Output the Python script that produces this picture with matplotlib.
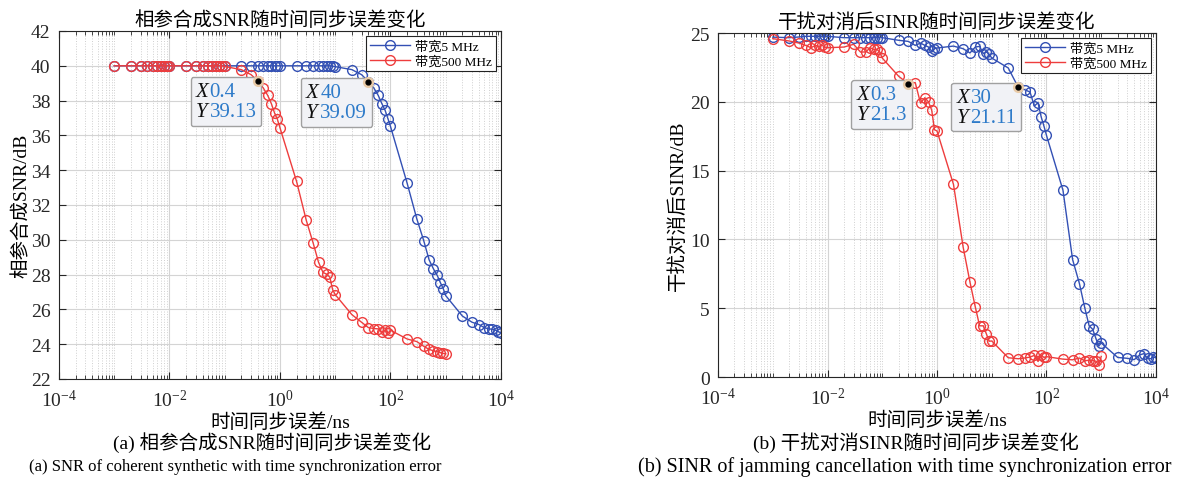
import numpy as np
import matplotlib
matplotlib.use('Agg')
import matplotlib.pyplot as plt
from matplotlib.ticker import LogLocator, NullFormatter
from matplotlib.offsetbox import TextArea, HPacker, AnnotationBbox

plt.rcParams['font.family'] = ['Liberation Serif', 'Noto Sans CJK SC']
plt.rcParams['mathtext.fontset'] = 'stix'
plt.rcParams['axes.unicode_minus'] = True

# 时间同步误差 (ns)
t_500 = [0.001, 0.002, 0.003, 0.004, 0.005, 0.006, 0.007, 0.008, 0.009,
         0.01, 0.02, 0.03, 0.04, 0.05, 0.06, 0.07, 0.08, 0.09,
         0.1, 0.2, 0.3, 0.4, 0.5, 0.6, 0.7, 0.8, 0.9,
         1, 2, 3, 4, 5, 6, 7, 8, 9,
         10, 20, 30, 40, 50, 60, 70, 80, 90,
         100, 200, 300, 400, 500, 600, 700, 800, 900, 1000]
t_5 = t_500 + [2000, 3000, 4000, 5000, 6000, 7000, 8000, 9000, 10000]

# (a) 相参合成SNR
snr_5 = [40, 40, 40, 40, 40, 40, 40, 40, 40,
         40, 40, 40, 40, 40, 40, 40, 40, 40,
         40, 40, 40, 40, 40, 40, 40, 40, 40,
         40, 40, 40, 40, 40, 40, 40, 40, 39.98,
         39.95, 39.78, 39.49, 39.09, 38.72, 38.3, 37.82, 37.44, 36.96,
         36.52, 33.26, 31.2, 29.95, 28.85, 28.33, 27.96, 27.54, 27.2,
         26.79, 25.62, 25.26, 25.13, 24.95, 24.88, 24.86, 24.8, 24.72, 24.65]
snr_500 = [40, 40, 40, 40, 40, 40, 40, 40, 40,
           40, 40, 40, 40, 40, 40, 40, 40, 40,
           39.96, 39.78, 39.49, 39.13, 38.72, 38.3, 37.82, 37.28, 36.92,
           36.44, 33.35, 31.11, 29.8, 28.7, 28.13, 28.02, 27.85, 27.12,
           26.85, 25.7, 25.26, 24.95, 24.9, 24.88, 24.69, 24.82, 24.64,
           24.8, 24.3, 24.15, 23.88, 23.7, 23.62, 23.57, 23.52, 23.47, 23.44]

# (b) 干扰对消后SINR
sinr_5 = [24.7, 24.66, 24.71, 24.76, 24.76, 24.76, 24.76, 24.76, 24.76,
          24.76, 24.66, 24.66, 24.66, 24.66, 24.66, 24.66, 24.66, 24.66,
          24.66, 24.47, 24.39, 24.1, 24.27, 24.1, 23.98, 23.69, 23.86,
          23.91, 24.05, 23.86, 23.55, 23.98, 24.03, 23.5, 23.62, 23.45,
          23.18, 22.46, 21.11, 20.88, 20.71, 19.69, 19.94, 18.9, 18.22,
          17.56, 13.57, 8.53, 6.78, 5.03, 3.73, 3.46, 2.79, 2.25,
          2.47, 1.42, 1.36, 1.26, 1.6, 1.7, 1.36, 1.33, 1.45, 1.4]
sinr_500 = [24.59, 24.42, 24.27, 24.1, 23.93, 24.1, 24.03, 24.1, 23.98,
            23.93, 23.98, 24.18, 23.62, 23.62, 23.93, 23.81, 23.81, 23.62,
            23.18, 21.85, 21.3, 21.4, 19.9, 20.3, 19.99, 19.4, 17.97,
            17.88, 14.0, 9.45, 6.9, 5.1, 3.72, 3.72, 3.12, 2.6,
            2.62, 1.4, 1.33, 1.38, 1.45, 1.57, 1.13, 1.6, 1.42,
            1.48, 1.3, 1.25, 1.38, 1.18, 1.22, 1.2, 1.15, 0.86, 1.5]

blue = '#3350B4'
red = '#EE3D3D'


def style_axes(ax, ylim, yticks):
    ax.set_xscale('log')
    ax.set_xlim(1e-4, 1e4)
    ax.set_ylim(*ylim)
    ax.set_yticks(yticks)
    ax.set_xticks([1e-4, 1e-2, 1e0, 1e2, 1e4])
    ax.xaxis.set_minor_locator(LogLocator(base=10, subs=np.arange(1, 10), numticks=50))
    ax.xaxis.set_minor_formatter(NullFormatter())
    ax.grid(True, which='major', color='#D4D4D4', lw=0.8)
    ax.grid(True, which='minor', axis='x', color='#CFCFCF', lw=0.7, ls=':')
    ax.set_axisbelow(True)
    ax.tick_params(which='both', direction='in', top=True, right=True,
                   labelsize=14, colors='#262626')
    ax.tick_params(axis='x', which='major', pad=7)
    ax.tick_params(axis='y', which='major', pad=6)
    ax.tick_params(which='major', length=5)
    ax.tick_params(which='minor', length=3)
    for s in ax.spines.values():
        s.set_color('#262626')
        s.set_linewidth(0.8)


def add_tip(ax, x, y):
    # 数据提示框
    tp = dict(fontsize=15, linespacing=1.05)
    names = TextArea('X\nY', textprops=dict(style='italic', color='#111111', **tp))
    vals = TextArea(f'{x:g}\n{y:g}', textprops=dict(color='#2E7BC9', **tp))
    pack = HPacker(children=[names, vals], pad=0, sep=1, align='top')
    ab = AnnotationBbox(pack, (x, y), xybox=(-1, -1), xycoords='data',
                        boxcoords='offset points', box_alignment=(1, 1),
                        bboxprops=dict(boxstyle='round,pad=0.35,rounding_size=0.15',
                                       fc='#F1F2F6', ec='#A0A0A0', lw=1.0),
                        zorder=6)
    ax.add_artist(ab)
    ax.plot(x, y, 'o', color='#E9CBA8', ms=7, zorder=7)
    ax.plot(x, y, 'o', color='black', ms=3.5, zorder=8)


fig = plt.figure(figsize=(11.86, 4.81), dpi=100)
ax1 = fig.add_axes([0.0497, 0.21, 0.3727, 0.7235])
ax2 = fig.add_axes([0.6054, 0.2141, 0.3693, 0.7152])

mk = dict(marker='o', mfc='none', ms=7, mew=1.0, lw=1.0)

# (a)
ax1.plot(t_5, snr_5, color=blue, label='带宽5 MHz', **mk)
ax1.plot(t_500, snr_500, color=red, label='带宽500 MHz', **mk)
style_axes(ax1, (22, 42), np.arange(22, 43, 2))
ax1.set_title('相参合成SNR随时间同步误差变化', fontsize=14, pad=4)
ax1.set_ylabel('相参合成SNR/dB', fontsize=14, labelpad=0)
ax1.set_xlabel('时间同步误差/ns', fontsize=14, labelpad=2)
add_tip(ax1, t_500[21], snr_500[21])
add_tip(ax1, t_5[39], snr_5[39])

# (b)
ax2.plot(t_5, sinr_5, color=blue, label='带宽5 MHz', **mk)
ax2.plot(t_500, sinr_500, color=red, label='带宽500 MHz', **mk)
style_axes(ax2, (0, 25), np.arange(0, 26, 5))
ax2.set_title('干扰对消后SINR随时间同步误差变化', fontsize=14, pad=4)
ax2.set_ylabel('干扰对消后SINR/dB', fontsize=14, labelpad=2)
ax2.set_xlabel('时间同步误差/ns', fontsize=14, labelpad=2)
add_tip(ax2, t_500[20], sinr_500[20])
add_tip(ax2, t_5[38], sinr_5[38])

for ax in (ax1, ax2):
    leg = ax.legend(loc='upper right', fontsize=9.5, handlelength=3.0,
                    fancybox=False, edgecolor='#222222', framealpha=1,
                    borderaxespad=0.4, borderpad=0.3, labelspacing=0.15,
                    handletextpad=0.4)
    leg.get_frame().set_linewidth(0.8)

fig.text(0.229, 0.079, '(a) 相参合成SNR随时间同步误差变化', ha='center', va='center', fontsize=14)
fig.text(0.198, 0.029, '(a) SNR of coherent synthetic with time synchronization error',
         ha='center', va='center', fontsize=12)
fig.text(0.772, 0.079, '(b) 干扰对消SINR随时间同步误差变化', ha='center', va='center', fontsize=14)
fig.text(0.763, 0.029, '(b) SINR of jamming cancellation with time synchronization error',
         ha='center', va='center', fontsize=14.5)

fig.savefig('out.png', dpi=100)
